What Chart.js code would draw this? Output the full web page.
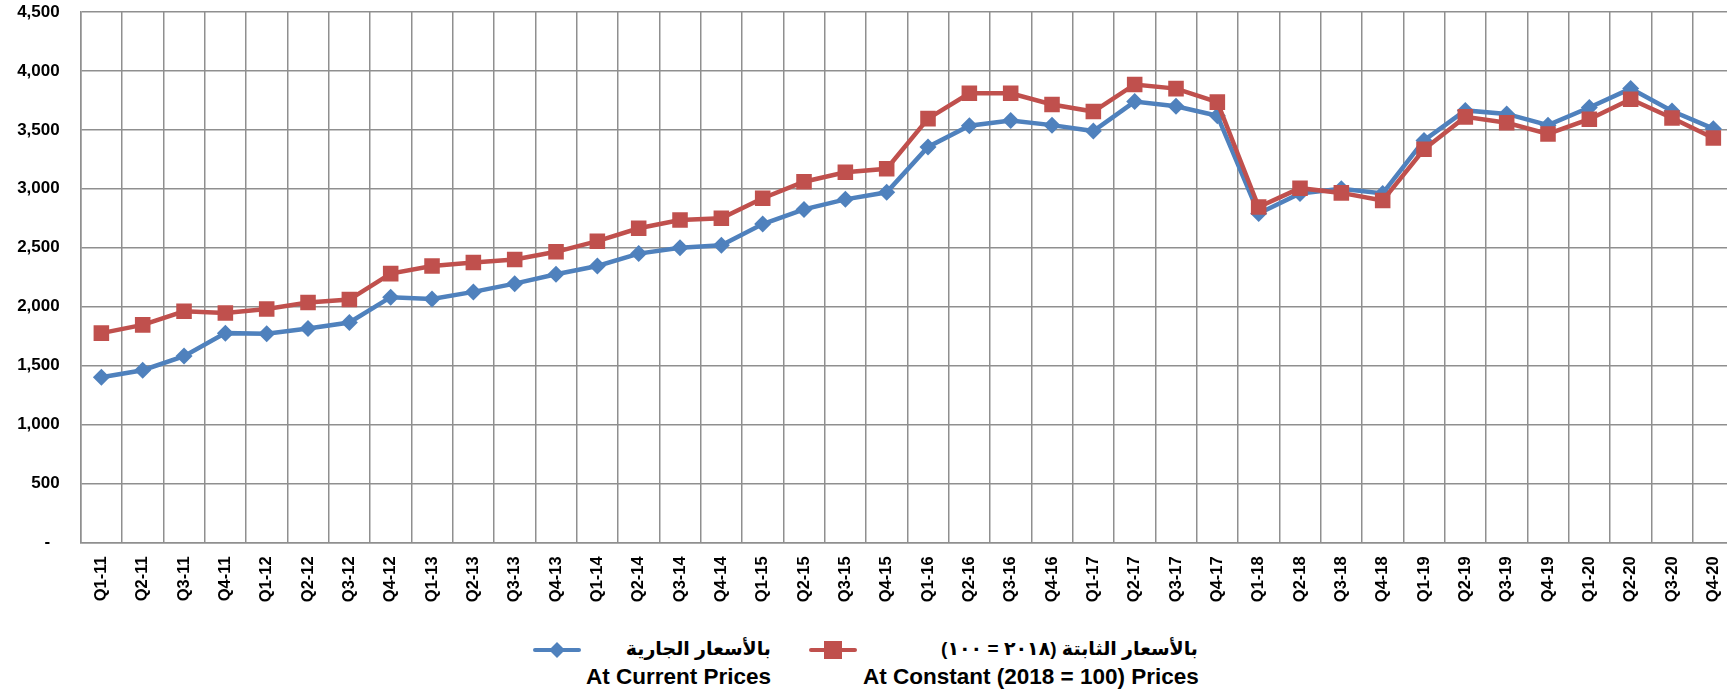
<!DOCTYPE html>
<html>
<head>
<meta charset="utf-8">
<script src="https://cdn.jsdelivr.net/npm/chart.js@4.4.1/dist/chart.umd.min.js"></script>
<style>
html, body { margin:0; padding:0; background:#fff; overflow:hidden; width:1727px; height:692px; }
#wrap { position:absolute; left:0; top:0; width:1745px; height:625px; }
.legend-item { position:absolute; top:637px; }
.mark { position:absolute; top:3px; }
.txt { position:absolute; top:0; text-align:right; font-family:"Liberation Sans", Arial, "DejaVu Sans", sans-serif; font-weight:bold; color:#000; white-space:nowrap; }
.ar { font-size:19px; line-height:24px; direction:rtl; }
.en { font-size:22.5px; line-height:24px; margin-top:4px; }
</style>
</head>
<body>
<div id="wrap"><canvas id="gdpChart"></canvas></div>

<div class="legend-item" style="left:533px">
  <svg class="mark" width="48" height="20"><line x1="2" y1="10" x2="46" y2="10" stroke="#4F81BD" stroke-width="4" stroke-linecap="round"/><polygon points="24,2 32,10 24,18 16,10" fill="#4F81BD"/></svg>
  <div class="txt" style="left:53px;width:185px">
    <div class="ar">بالأسعار الجارية</div>
    <div class="en">At Current Prices</div>
  </div>
</div>

<div class="legend-item" style="left:809px">
  <svg class="mark" width="48" height="20"><line x1="2" y1="10" x2="46" y2="10" stroke="#C0504D" stroke-width="4" stroke-linecap="round"/><rect x="15" y="1" width="18" height="18" fill="#C0504D"/></svg>
  <div class="txt" style="left:54px;width:335px">
    <div class="ar">بالأسعار الثابتة (٢٠١٨ = ١٠٠)</div>
    <div class="en">At Constant (2018 = 100) Prices</div>
  </div>
</div>

<script>
let quarters = ["Q1-11","Q2-11","Q3-11","Q4-11","Q1-12","Q2-12","Q3-12","Q4-12",
"Q1-13","Q2-13","Q3-13","Q4-13","Q1-14","Q2-14","Q3-14","Q4-14",
"Q1-15","Q2-15","Q3-15","Q4-15","Q1-16","Q2-16","Q3-16","Q4-16",
"Q1-17","Q2-17","Q3-17","Q4-17","Q1-18","Q2-18","Q3-18","Q4-18",
"Q1-19","Q2-19","Q3-19","Q4-19","Q1-20","Q2-20","Q3-20","Q4-20"]

// at current prices (blue)
let currentPrices = [1400,1460,1580,1775,1770,1815,1865,2080,
2065,2125,2195,2275,2345,2450,2500,2520,
2700,2825,2910,2970,3355,3535,3580,3540,
3490,3740,3700,3620,2790,2960,3000,2960,
3410,3665,3635,3540,3690,3850,3660,3510]

// at constant 2018 prices (red)
let constantPrices = [1775,1845,1960,1945,1980,2035,2060,2280,
2345,2375,2400,2465,2555,2665,2735,2750,
2920,3060,3140,3170,3595,3810,3810,3715,
3655,3885,3850,3735,2845,3005,2965,2900,
3335,3610,3560,3465,3590,3760,3600,3430]

let yTicks = [0,500,1000,1500,2000,2500,3000,3500,4000,4500]

let gridColor = "#8f8f8f"

new Chart(document.getElementById("gdpChart"),{
type:"line",
data:{
labels:quarters,
datasets:[
{
label:"At Current Prices",
data:currentPrices,
borderColor:"#4F81BD",
backgroundColor:"#4F81BD",
borderWidth:4.5,
pointStyle:"rectRot",
pointRadius:8.5,
pointBorderWidth:0,
tension:0,
order:2
},
{
label:"At Constant (2018 = 100) Prices",
data:constantPrices,
borderColor:"#C0504D",
backgroundColor:"#C0504D",
borderWidth:4.5,
pointStyle:"rect",
pointRadius:11,
pointBorderWidth:0,
tension:0,
order:1
}
]
},
options:{
responsive:true,
maintainAspectRatio:false,
animation:false,
layout:{padding:{top:12,left:0,right:0,bottom:0}},
plugins:{legend:{display:false},tooltip:{enabled:false}},
scales:{
x:{
offset:true,
grid:{offset:true,color:gridColor,lineWidth:1.5,drawTicks:false},
border:{color:gridColor,width:1.5},
ticks:{
color:"#000",
font:{family:"Liberation Sans",weight:"bold",size:16.5},
minRotation:90,maxRotation:90,
padding:14,
autoSkip:false
},
afterFit:function(s){ s.height = 625 - 542.3; s.paddingLeft = 0; s.paddingRight = 0 }
},
y:{
min:0,max:4500,
afterBuildTicks:function(s){ s.ticks = yTicks.map(v=>({value:v})) },
grid:{color:gridColor,lineWidth:1.5,drawTicks:false},
border:{color:gridColor,width:1.5},
ticks:{
color:"#000",
font:{family:"Liberation Sans",weight:"bold",size:17},
padding:21,
callback:function(v){ return v===0 ? "-  " : v.toLocaleString("en-US") }
},
afterFit:function(s){ s.width = 80.7; s.paddingTop = 0; s.paddingBottom = 0 }
}
}
}
})
</script>
</body>
</html>
